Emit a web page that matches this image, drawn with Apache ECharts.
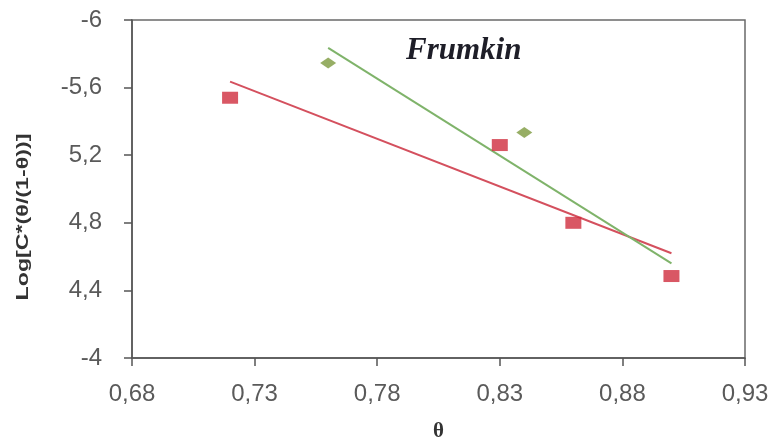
<!DOCTYPE html>
<html><head><meta charset="utf-8">
<script src="https://cdn.jsdelivr.net/npm/echarts@6/dist/echarts.min.js"></script>
<style>html,body{margin:0;padding:0;background:#fff}#c{width:772px;height:441px}</style>
</head><body><div id="c"></div>
<script>
// data
const redX = [0.72, 0.83, 0.86, 0.90];
const redY = [5.54, 5.26, 4.80, 4.485];
const greenX = [0.76, 0.84];
const greenY = [5.745, 5.335];
const redLineX = [0.72, 0.90];
const redLineY = [5.635, 4.62];
const greenLineX = [0.76, 0.90];
const greenLineY = [5.835, 4.56];
const yTickValues = [4, 4.4, 4.8, 5.2, 5.6, 6];
const yTickLabels = ["-4", "4,4", "4,8", "5,2", "-5,6", "-6"];
const xTickLabels = ["0,68", "0,73", "0,78", "0,83", "0,88", "0,93"];

const zip = (a, b) => a.map((v, i) => [v, b[i]]);
const chart = echarts.init(document.getElementById('c'), null, {renderer: 'canvas'});
chart.setOption({
  animation: false,
  grid: {left: 132, right: 27, top: 20, bottom: 83, show: true, containLabel: false, outerBoundsMode: 'none',
    borderColor: '#6a6a6a', borderWidth: 1.5},
  title: {
    text: 'Frumkin', left: 401, top: 30,
    textStyle: {fontFamily: 'Liberation Serif', fontStyle: 'italic', fontWeight: 'bold', fontSize: 31, color: '#1e1e28'}
  },
  graphic: [{
    type: 'text', x: 24, y: 217, rotation: Math.PI / 2, scaleX: 1.45,
    style: {text: 'Log[C*(θ/(1-θ))]', fontFamily: 'Liberation Sans', fontWeight: 'bold', fontSize: 16,
      fill: '#333', align: 'center', verticalAlign: 'middle'}
  }],
  xAxis: {
    type: 'value', min: 0.68, max: 0.93, interval: 0.05,
    name: 'θ', nameLocation: 'middle', nameGap: 63,
    nameTextStyle: {fontFamily: 'Liberation Serif', fontWeight: 'bold', fontSize: 21, color: '#333'},
    axisLine: {show: true, lineStyle: {color: '#555', width: 1.5}},
    axisTick: {show: true, length: 8, lineStyle: {color: '#555', width: 1.5}},
    axisLabel: {
      margin: 24, fontFamily: 'Liberation Sans', fontSize: 24, color: '#5a5a5a',
      formatter: v => xTickLabels[Math.round((v - 0.68) / 0.05)]
    },
    splitLine: {show: false}
  },
  yAxis: {
    type: 'value', min: 4, max: 6, interval: 0.4,
    axisLine: {show: true, lineStyle: {color: '#555', width: 1.5}},
    axisTick: {show: true, length: 8, inside: false, lineStyle: {color: '#555', width: 1.5}},
    axisLabel: {
      margin: 30, fontFamily: 'Liberation Sans', fontSize: 24, color: '#5a5a5a',
      formatter: v => {
        const i = yTickValues.findIndex(t => Math.abs(t - v) < 1e-6);
        return i >= 0 ? yTickLabels[i] : '';
      }
    },
    splitLine: {show: false}
  },
  series: [
    {type: 'line', data: zip(redLineX, redLineY), symbol: 'none', lineStyle: {color: '#d4505e', width: 2}, z: 2},
    {type: 'line', data: zip(greenLineX, greenLineY), symbol: 'none', lineStyle: {color: '#7fb36a', width: 2}, z: 2},
    {type: 'scatter', data: zip(redX, redY), symbol: 'rect', symbolSize: [16, 12], itemStyle: {color: '#cf2d3d'}, z: 3},
    {type: 'scatter', data: zip(greenX, greenY), symbol: 'diamond', symbolSize: [16, 11], itemStyle: {color: '#7d9a3e'}, z: 3}
  ]
});
</script></body></html>
